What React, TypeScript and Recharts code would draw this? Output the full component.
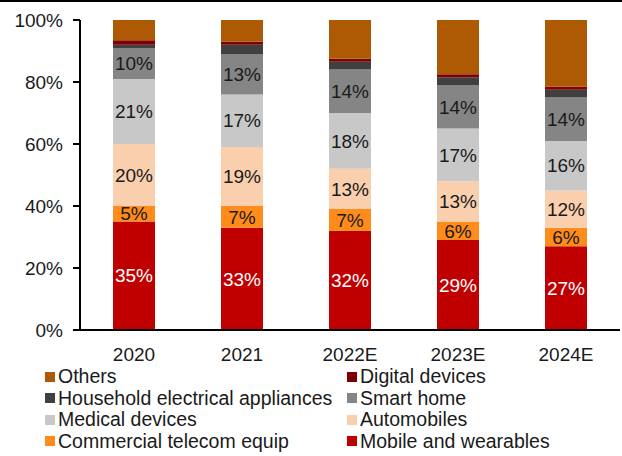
import { Bar, BarChart, LabelList, Legend, XAxis, YAxis } from "recharts";

const years = ["2020", "2021", "2022E", "2023E", "2024E"];
const mobile = [35, 33, 32, 29, 27];
const telecom = [5, 7, 7, 6, 6];
const automobiles = [20, 19, 13, 13, 12];
const medical = [21, 17, 18, 17, 16];
const smartHome = [10, 13, 14, 14, 14];
const household = [1, 3, 2.5, 2.5, 2.5];
const digital = [1.5, 1, 1, 1, 1];
const others = [6.5, 7, 12.5, 17.5, 21.5];
const yTicks = [0, 20, 40, 60, 80, 100];

const FONT = '"Liberation Sans", Arial, sans-serif';

// bottom to top of each stack
const series = [
  { key: "mobile", name: "Mobile and wearables", color: "#C00000", values: mobile, label: "#fff" },
  { key: "telecom", name: "Commercial telecom equip", color: "#FF8C1A", values: telecom, label: "#1a1a1a" },
  { key: "automobiles", name: "Automobiles", color: "#F9CFAE", values: automobiles, label: "#1a1a1a" },
  { key: "medical", name: "Medical devices", color: "#C8C8C8", values: medical, label: "#1a1a1a" },
  { key: "smartHome", name: "Smart home", color: "#858585", values: smartHome, label: "#1a1a1a" },
  { key: "household", name: "Household electrical appliances", color: "#404040", values: household, label: null },
  { key: "digital", name: "Digital devices", color: "#7F0000", values: digital, label: null },
  { key: "others", name: "Others", color: "#AE5A04", values: others, label: null },
];

const data = years.map((year, i) => {
  const row: Record<string, string | number> = { year };
  series.forEach((s) => (row[s.key] = s.values[i]));
  return row;
});

function LegendBox() {
  const items = [...series].reverse();
  return (
    <div style={{ display: "grid", gridTemplateColumns: "302px 260px", fontFamily: FONT, fontSize: 19.5, lineHeight: "21.5px", color: "#1a1a1a" }}>
      {items.map((s) => (
        <div key={s.key} style={{ display: "flex", alignItems: "center", whiteSpace: "nowrap" }}>
          <span style={{ width: 10, height: 10, background: s.color, marginRight: 3, display: "inline-block" }} />
          {s.name}
        </div>
      ))}
    </div>
  );
}

export default function App() {
  return (
    <div style={{ position: "relative", width: 622, height: 456, background: "#fff", overflow: "hidden" }}>
      <style>{"body{margin:0}"}</style>
      <div style={{ position: "absolute", left: 0, top: 0, width: 622, height: 2, background: "#000" }} />
      <BarChart width={622} height={456} data={data} margin={{ top: 20, right: 2, bottom: 0, left: 0 }} barSize={42}>
        <XAxis
          dataKey="year"
          height={30}
          axisLine={{ stroke: "#000", strokeWidth: 2 }}
          tickLine={false}
          tickMargin={12}
          tick={{ fill: "#1a1a1a", fontSize: 19, fontFamily: FONT }}
        />
        <YAxis
          width={80}
          domain={[0, 100]}
          ticks={yTicks}
          tickFormatter={(v) => `${v}%`}
          axisLine={{ stroke: "#000", strokeWidth: 2 }}
          tickLine={{ stroke: "#000", strokeWidth: 2 }}
          tickSize={7}
          tickMargin={10}
          tick={{ fill: "#1a1a1a", fontSize: 19, fontFamily: FONT }}
        />
        <Legend
          verticalAlign="bottom"
          height={96}
          wrapperStyle={{ left: 45, top: 366, width: 577 }}
          content={() => <LegendBox />}
        />
        {series.map((s) => (
          <Bar key={s.key} dataKey={s.key} name={s.name} stackId="a" fill={s.color} isAnimationActive={false}>
            {s.label && (
              <LabelList
                dataKey={s.key}
                position="center"
                formatter={(v: number) => `${Math.round(v)}%`}
                fill={s.label}
                style={{ fontSize: 19, fontFamily: FONT }}
              />
            )}
          </Bar>
        ))}
      </BarChart>
    </div>
  );
}
